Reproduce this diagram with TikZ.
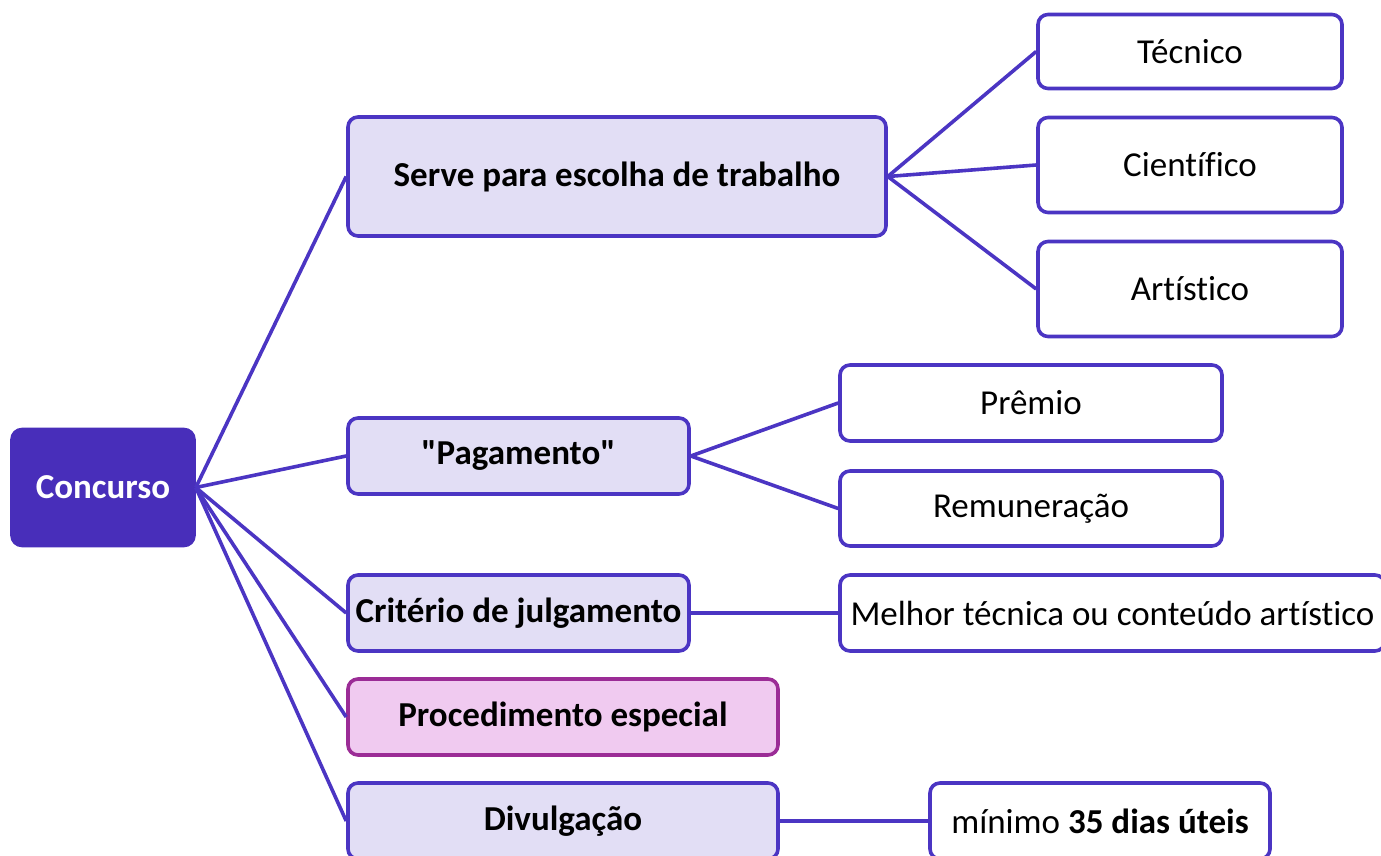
\documentclass[tikz,border=0pt]{standalone}
\usepackage{fontspec}
\setmainfont{Carlito}[Ligatures={ResetAll,NoCommon}]
\newcommand\aspas{\XeTeXglyph\XeTeXcharglyph"22\relax}
\definecolor{roxo}{RGB}{72,46,186}
\definecolor{borda}{RGB}{75,53,195}
\definecolor{lilas}{RGB}{226,222,245}
\definecolor{rosa}{RGB}{240,202,240}
\definecolor{magenta}{RGB}{155,44,150}
\begin{document}
\begin{tikzpicture}[x=0.5pt,y=-0.5pt,
    caixa/.style={draw=borda,line width=1.8pt,rounded corners=5pt,fill=white,
      font=\fontsize{17.5}{21}\selectfont,inner sep=2pt},
    ramo/.style={caixa,fill=lilas,font=\fontsize{17.5}{21}\selectfont\bfseries},
    liga/.style={draw=borda,line width=1.8pt}]
    \useasboundingbox (0,0) rectangle (1381,856);
    \node[caixa,fill=roxo,draw=roxo,text=white,font=\fontsize{17.5}{21}\selectfont\bfseries,
      minimum width=91pt,minimum height=58pt] (concurso) at (103,487.5) {Concurso};
    % ramos
    \node[ramo,minimum width=269pt,minimum height=59.5pt] (serve) at (617,176.5) {Serve para escolha de trabalho};
    \node[ramo,minimum width=170.5pt,minimum height=38pt] (pag) at (518.5,456) {\aspas Pagamento\aspas};
    \node[ramo,minimum width=170.5pt,minimum height=38pt] (crit) at (518.5,613) {Critério de julgamento};
    \node[ramo,fill=rosa,draw=magenta,minimum width=215pt,minimum height=38pt] (proc) at (563,717) {Procedimento especial};
    \node[ramo,minimum width=215pt,minimum height=38pt] (divul) at (563,821) {Divulgação};
    % folhas
    \node[caixa,minimum width=152pt,minimum height=37pt] (tec) at (1190,51.5) {Técnico};
    \node[caixa,minimum width=152pt,minimum height=47.5pt] (cien) at (1190,165) {Científico};
    \node[caixa,minimum width=152pt,minimum height=47.5pt] (art) at (1190,289) {Artístico};
    \node[caixa,minimum width=191pt,minimum height=38pt] (premio) at (1031,403) {Prêmio};
    \node[caixa,minimum width=191pt,minimum height=37.5pt] (remun) at (1031,508.5) {Remuneração};
    \node[caixa,minimum width=272.5pt,minimum height=38pt] (melhor) at (1112.5,613) {Melhor técnica ou conteúdo artístico};
    \node[caixa,minimum width=170pt,minimum height=38pt] (minimo) at (1100,821) {mínimo \textbf{35 dias úteis}};
    % ligacoes
    \foreach \r in {serve,pag,crit,proc,divul}
      \draw[liga] (concurso.east) -- (\r.west);
    \foreach \f in {tec,cien,art}
      \draw[liga] (serve.east) -- (\f.west);
    \draw[liga] (pag.east) -- (premio.west);
    \draw[liga] (pag.east) -- (remun.west);
    \draw[liga] (crit.east) -- (melhor.west);
    \draw[liga] (divul.east) -- (minimo.west);
\end{tikzpicture}
\end{document}
